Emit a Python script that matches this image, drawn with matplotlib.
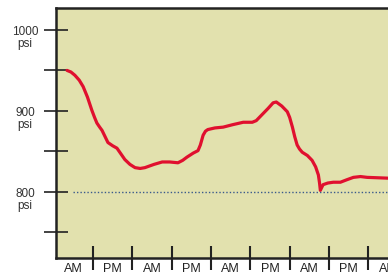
"""Pressure trace over several half-days."""

import matplotlib.pyplot as plt
import matplotlib.transforms as mtransforms

# half-day index (AM/PM boundaries at whole numbers) and pressure in psi
time_halfdays = [0.34, 0.44, 0.54, 0.65, 0.75, 0.86, 0.97, 1.04, 1.10, 1.17,
                 1.23, 1.30, 1.38, 1.50, 1.61, 1.71, 1.81, 1.94, 2.07, 2.20,
                 2.32, 2.55, 2.76, 2.95, 3.16, 3.28, 3.39, 3.55, 3.67, 3.73,
                 3.80, 3.86, 3.92, 4.10, 4.31, 4.55, 4.82, 5.05, 5.15, 5.25,
                 5.45, 5.58, 5.66, 5.80, 5.94, 6.00, 6.07, 6.13, 6.19, 6.25,
                 6.32, 6.45, 6.57, 6.66, 6.73, 6.76, 6.78, 6.85, 6.97, 7.11,
                 7.29, 7.45, 7.62, 7.80, 7.97, 8.51]
pressure_psi = [950, 948, 944, 938, 930, 917, 901, 892, 885, 880,
                876, 869, 861, 857, 854, 847, 840, 834, 830, 829,
                830, 834, 837, 837, 836, 839, 843, 848, 851, 858,
                870, 875, 877, 879, 880, 883, 886, 886, 888, 893,
                903, 910, 911, 906, 899, 892, 880, 868, 858, 853,
                849, 845, 839, 831, 821, 811, 802, 809, 811, 812,
                812, 815, 818, 819, 818, 817]

y_ticks = [750, 800, 850, 900, 950, 1000]
y_labels = {1000: "1000\npsi", 900: "900\npsi", 800: "800\npsi"}
period_labels = ["AM", "PM"] * 5
baseline_psi = 800

plt.rcParams["font.family"] = ["Liberation Sans", "DejaVu Sans"]

fig = plt.figure(figsize=(3.88, 2.75), dpi=100)
ax = fig.add_axes([56 / 388, 1 - 258 / 275, 1 - 56 / 388, 250 / 275])
ax.set_facecolor("#e2e1ae")

ax.plot(time_halfdays, pressure_psi, color="#e0102f", lw=2.3,
        solid_capstyle="round", solid_joinstyle="round", zorder=3)
ax.plot([0.49, 9], [baseline_psi, baseline_psi], color="#3a5a8c", lw=1,
        ls=(0, (1, 1.5)), zorder=2)

ax.set_xlim(0.06, 8.5)
ax.set_ylim(718.5, 1027)

ax.spines["right"].set_visible(False)
for side in ["left", "bottom", "top"]:
    ax.spines[side].set_linewidth(1.8)
    ax.spines[side].set_color("#222222")

ax.set_yticks(y_ticks)
ax.set_yticklabels([])
ax.tick_params(axis="y", direction="inout", length=17, width=1.2,
               color="#222222")

ax.set_xticks(range(1, 9))
ax.set_xticklabels([])
ax.tick_params(axis="x", direction="inout", length=17, width=1.5,
               color="#222222")

trans = mtransforms.blended_transform_factory(ax.transAxes, ax.transData)
for value, text in y_labels.items():
    ax.text(-0.093, value + 5, text, transform=trans, ha="center", va="top",
            fontsize=8.5, color="#333333", linespacing=1.0)

trans_x = mtransforms.blended_transform_factory(ax.transData, fig.transFigure)
for i, text in enumerate(period_labels):
    ax.text(i + 0.5, 1 - 269 / 275, text, transform=trans_x, ha="center",
            va="center", fontsize=9, color="#222222", clip_on=False)

fig.savefig("out.png", dpi=100)
